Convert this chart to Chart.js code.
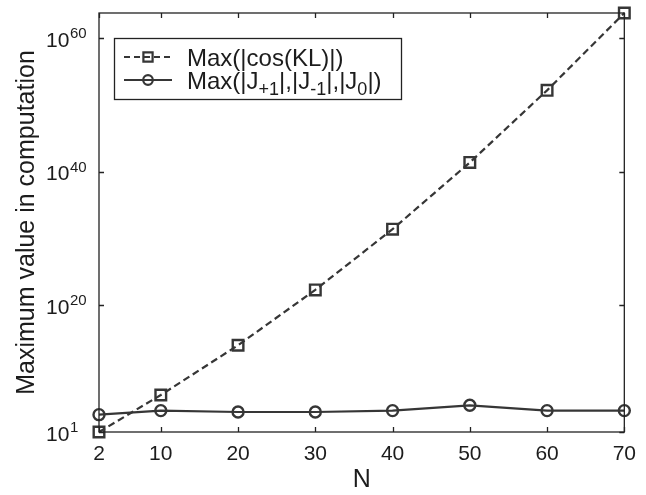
<!DOCTYPE html>
<html>
<head>
<meta charset="utf-8">
<script src="https://cdn.jsdelivr.net/npm/chart.js@4.4.1/dist/chart.umd.min.js"></script>
<style>
    html, body { margin: 0; padding: 0; background: #fff; }
    #contenedor { width: 646px; height: 495px; }
</style>
</head>
<body>
<div id="contenedor"><canvas id="grafico" width="646" height="495"></canvas></div>
<script>
// Datos
const valoresN = [2, 10, 20, 30, 40, 50, 60, 70];
const maxCosKL = [1e1, 3.5e6, 1e14, 2e22, 2.5e31, 2.5e41, 1.6e52, 6.3e63];
const maxJ = [4e3, 1.6e4, 1e4, 1e4, 1.6e4, 1e5, 1.6e4, 1.6e4];

// Ejes
const ticksX = [2, 10, 20, 30, 40, 50, 60, 70];
const ticksY = [1e1, 1e20, 1e40, 1e60];
const rangoX = [2, 70];
const rangoY = [1e1, 6.3e63];
const tituloX = 'N';
const tituloY = 'Maximum value in computation';

// Leyenda (texto con subíndices)
const leyendaCos = [{ t: 'Max(|cos(KL)|)' }];
const leyendaJ = [
    { t: 'Max(|J' }, { t: '+1', sub: true },
    { t: '|,|J' }, { t: '-1', sub: true },
    { t: '|,|J' }, { t: '0', sub: true },
    { t: '|)' }
];

const FUENTE = '"Liberation Sans", Arial, Helvetica, sans-serif';
const COLOR_LINEA = '#363636';
const COLOR_TEXTO = '#1c1c1c';

/**
 * Dibuja la caja de ejes, las marcas interiores y las etiquetas 10^n
 */
const marcoEjes = {
    id: 'marcoEjes',
    afterDatasetsDraw: function(chart) {
        const ctx = chart.ctx;
        const a = chart.chartArea;
        const x = chart.scales.x;
        const y = chart.scales.y;
        ctx.save();
        ctx.strokeStyle = '#222';
        ctx.lineWidth = 1.3;
        ctx.strokeRect(a.left, a.top, a.right - a.left, a.bottom - a.top);

        ctx.beginPath();
        ticksX.forEach(v => {
            let px = Math.round(x.getPixelForValue(v)) + 0.5;
            ctx.moveTo(px, a.bottom); ctx.lineTo(px, a.bottom - 5);
            ctx.moveTo(px, a.top); ctx.lineTo(px, a.top + 5);
        });
        ticksY.forEach(v => {
            let py = Math.round(y.getPixelForValue(v)) + 0.5;
            ctx.moveTo(a.left, py); ctx.lineTo(a.left + 5, py);
            ctx.moveTo(a.right, py); ctx.lineTo(a.right - 5, py);
        });
        ctx.stroke();

        // Etiquetas del eje Y con exponente
        ctx.fillStyle = COLOR_TEXTO;
        ctx.textAlign = 'left';
        ctx.textBaseline = 'alphabetic';
        ticksY.forEach(v => {
            let py = y.getPixelForValue(v);
            let exp = Math.round(Math.log10(v));
            ctx.font = '21px ' + FUENTE;
            ctx.fillText('10', 46, py + 8.5);
            ctx.font = '15px ' + FUENTE;
            ctx.fillText(String(exp), 70, py);
        });
        ctx.restore();
    }
};

/**
 * Dibuja la leyenda con subíndices
 */
const leyenda = {
    id: 'leyenda',
    afterDraw: function(chart) {
        const ctx = chart.ctx;
        ctx.save();
        ctx.fillStyle = '#fff';
        ctx.fillRect(114, 38, 287, 61);
        ctx.strokeStyle = '#222';
        ctx.lineWidth = 1.3;
        ctx.strokeRect(114.5, 38.5, 287, 61);

        const filas = [
            { y: 57, partes: leyendaCos, dash: [6, 4], estilo: 'rect', radio: 6.5 },
            { y: 80, partes: leyendaJ, dash: [], estilo: 'circle', radio: 4.8 }
        ];
        filas.forEach(f => {
            ctx.strokeStyle = COLOR_LINEA;
            ctx.lineWidth = 2;
            ctx.setLineDash(f.dash);
            ctx.beginPath();
            ctx.moveTo(124, f.y); ctx.lineTo(172, f.y);
            ctx.stroke();
            ctx.setLineDash([]);
            ctx.lineWidth = 2.2;
            ctx.fillStyle = 'rgba(0,0,0,0)';
            Chart.helpers.drawPoint(ctx, {
                pointStyle: f.estilo, radius: f.radio, rotation: 0, borderWidth: 2.2
            }, 148, f.y);

            let cx = 187;
            ctx.fillStyle = COLOR_TEXTO;
            ctx.textBaseline = 'alphabetic';
            ctx.textAlign = 'left';
            f.partes.forEach(p => {
                ctx.font = (p.sub ? '18px ' : '24px ') + FUENTE;
                ctx.fillText(p.t, cx, f.y + (p.sub ? 15 : 8.5));
                cx += ctx.measureText(p.t).width;
            });
        });
        ctx.restore();
    }
};

const ctx = document.getElementById('grafico').getContext('2d');
const grafico = new Chart(ctx, {
    type: 'line',
    data: {
        datasets: [
            {
                label: 'Max(|cos(KL)|)',
                data: valoresN.map((n, i) => ({ x: n, y: maxCosKL[i] })),
                borderColor: COLOR_LINEA,
                backgroundColor: 'rgba(0,0,0,0)',
                borderWidth: 2.2,
                borderDash: [7, 4],
                pointStyle: 'rect',
                pointRadius: 7.5,
                pointBorderWidth: 2.4,
                tension: 0,
                clip: false
            },
            {
                label: 'Max(|J+1|,|J-1|,|J0|)',
                data: valoresN.map((n, i) => ({ x: n, y: maxJ[i] })),
                borderColor: COLOR_LINEA,
                backgroundColor: 'rgba(0,0,0,0)',
                borderWidth: 2.2,
                pointStyle: 'circle',
                pointRadius: 5.5,
                pointBorderWidth: 2.4,
                tension: 0,
                clip: false
            }
        ]
    },
    options: {
        responsive: false,
        animation: false,
        devicePixelRatio: 1,
        layout: { padding: { left: 0, right: 14, top: 13, bottom: 0 } },
        plugins: {
            legend: { display: false },
            tooltip: { enabled: false }
        },
        scales: {
            x: {
                type: 'linear',
                min: rangoX[0],
                max: rangoX[1],
                afterBuildTicks: s => { s.ticks = ticksX.map(v => ({ value: v })); },
                afterFit: s => { s.height = 63; },
                grid: { display: false, drawTicks: false },
                border: { display: false },
                ticks: {
                    autoSkip: false,
                    maxRotation: 0,
                    padding: 10,
                    color: COLOR_TEXTO,
                    font: { size: 21, family: FUENTE },
                    callback: v => String(v)
                },
                title: {
                    display: true,
                    text: tituloX,
                    color: COLOR_TEXTO,
                    font: { size: 25, family: FUENTE },
                    padding: { top: 0, bottom: 0 }
                }
            },
            y: {
                type: 'logarithmic',
                min: rangoY[0],
                max: rangoY[1],
                afterBuildTicks: s => { s.ticks = ticksY.map(v => ({ value: v })); },
                afterFit: s => { s.width = 99; },
                grid: { display: false, drawTicks: false },
                border: { display: false },
                ticks: { display: false },
                title: {
                    display: true,
                    text: tituloY,
                    color: COLOR_TEXTO,
                    font: { size: 25, family: FUENTE },
                    padding: { top: 12, bottom: 0 }
                }
            }
        }
    },
    plugins: [marcoEjes, leyenda]
});
</script>
</body>
</html>
